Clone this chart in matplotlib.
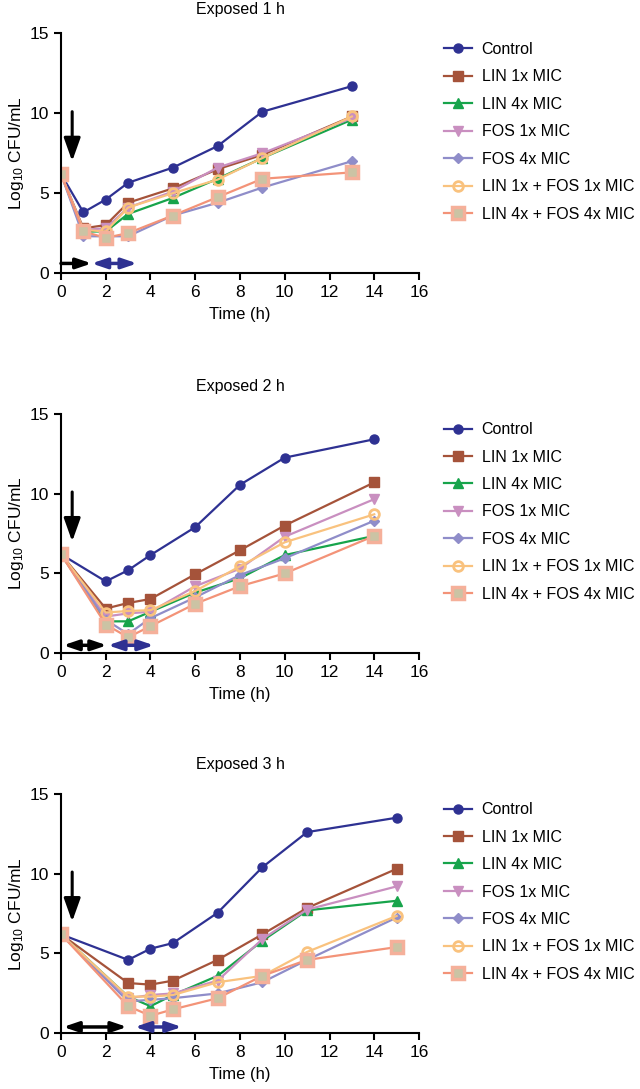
import matplotlib
matplotlib.use("Agg")
import matplotlib.pyplot as plt

plt.rcParams['font.family'] = ['Liberation Sans', 'DejaVu Sans']
plt.rcParams['mathtext.fontset'] = 'custom'
plt.rcParams['mathtext.rm'] = 'Liberation Sans'
plt.rcParams['mathtext.default'] = 'regular'

# series names
labels = ['Control', 'LIN 1x MIC', 'LIN 4x MIC', 'FOS 1x MIC', 'FOS 4x MIC',
          'LIN 1x + FOS 1x MIC', 'LIN 4x + FOS 4x MIC']

# panel 1: exposed 1 h
t1 = [0, 1, 2, 3, 5, 7, 9, 13]
p1_control = [6.2, 3.8, 4.6, 5.65, 6.6, 7.95, 10.1, 11.7]
p1_lin1 = [6.2, 2.8, 3.0, 4.4, 5.3, 6.5, 7.4, 9.8]
p1_lin4 = [6.2, 2.6, 2.6, 3.7, 4.7, 5.9, 7.2, 9.6]
p1_fos1 = [6.2, 2.7, 2.8, 4.1, 5.1, 6.6, 7.5, 9.7]
p1_fos4 = [6.2, 2.3, 2.3, 2.3, 3.6, 4.4, 5.35, 7.0]
p1_combo1 = [6.2, 2.7, 2.6, 4.1, 5.0, 5.85, 7.2, 9.8]
p1_combo4 = [6.2, 2.6, 2.2, 2.5, 3.6, 4.75, 5.9, 6.3]

# panel 2: exposed 2 h
t2 = [0, 2, 3, 4, 6, 8, 10, 14]
p2_control = [6.2, 4.5, 5.2, 6.15, 7.9, 10.55, 12.25, 13.4]
p2_lin1 = [6.2, 2.8, 3.15, 3.4, 4.95, 6.45, 8.0, 10.7]
p2_lin4 = [6.2, 2.0, 2.0, 2.6, 3.8, 4.7, 6.15, 7.35]
p2_fos1 = [6.2, 2.3, 2.5, 2.6, 4.2, 5.3, 7.3, 9.65]
p2_fos4 = [6.2, 2.1, 1.2, 2.2, 3.5, 4.9, 5.95, 8.3]
p2_combo1 = [6.2, 2.55, 2.65, 2.7, 3.9, 5.45, 6.95, 8.7]
p2_combo4 = [6.2, 1.8, 1.0, 1.7, 3.1, 4.2, 5.0, 7.35]

# panel 3: exposed 3 h
t3 = [0, 3, 4, 5, 7, 9, 11, 15]
p3_control = [6.2, 4.6, 5.3, 5.65, 7.55, 10.4, 12.6, 13.5]
p3_lin1 = [6.2, 3.15, 3.05, 3.3, 4.6, 6.2, 7.85, 10.3]
p3_lin4 = [6.2, 2.3, 1.7, 2.4, 3.6, 5.8, 7.7, 8.3]
p3_fos1 = [6.2, 2.2, 2.4, 2.5, 3.3, 5.9, 7.75, 9.2]
p3_fos4 = [6.2, 2.0, 2.1, 2.2, 2.5, 3.2, 4.6, 7.25]
p3_combo1 = [6.2, 2.3, 2.3, 2.4, 3.2, 3.6, 5.1, 7.35]
p3_combo4 = [6.2, 1.7, 1.1, 1.5, 2.2, 3.6, 4.6, 5.4]

titles = ['Exposed 1 h', 'Exposed 2 h', 'Exposed 3 h']
times = [t1, t2, t3]
panels = [
    [p1_control, p1_lin1, p1_lin4, p1_fos1, p1_fos4, p1_combo1, p1_combo4],
    [p2_control, p2_lin1, p2_lin4, p2_fos1, p2_fos4, p2_combo1, p2_combo4],
    [p3_control, p3_lin1, p3_lin4, p3_fos1, p3_fos4, p3_combo1, p3_combo4],
]

# exposure (black) and regrowth-sampling (blue) arrows: (start, end, double headed)
black_arrows = [(0.0, 1.37, False), (0.1, 2.05, True), (0.1, 2.95, True)]
blue_arrows = [(1.37, 3.4), (2.1, 4.15), (3.3, 5.4)]
arrow_y = [0.6, 0.5, 0.4]
title_pads = [14, 16, 18]

styles = [
    dict(color='#2e3192', marker='o', ms=6.5, mfc='#2e3192', mec='#2e3192'),
    dict(color='#a5533a', marker='s', ms=6.5, mfc='#a5533a', mec='#a5533a'),
    dict(color='#17a44b', marker='^', ms=6.5, mfc='#17a44b', mec='#17a44b'),
    dict(color='#c98fc0', marker='v', ms=7, mfc='#c98fc0', mec='#c98fc0'),
    dict(color='#8f8dc9', marker='D', ms=5.5, mfc='#8f8dc9', mec='#8f8dc9'),
    dict(color='#f9c27e', marker='o', ms=7, mfc='none', mec='#f9c27e', mew=2),
    dict(color='#f39378', marker='s', ms=9, mfc='#cbc3a4', mec='#f5b09a', mew=2.5),
]

fig = plt.figure(figsize=(6.4, 10.89), dpi=100)
bottoms = [0.7493, 0.4001, 0.0511]

for i in range(3):
    ax = fig.add_axes([0.0953, bottoms[i], 0.5594, 0.2200])
    for y, lab, st in zip(panels[i], labels, styles):
        ax.plot(times[i], y, lw=1.6, label=lab, **st)

    ax.set_xlim(0, 16)
    ax.set_ylim(0, 15)
    ax.set_xticks(range(0, 17, 2))
    ax.set_yticks([0, 5, 10, 15])
    ax.spines['top'].set_visible(False)
    ax.spines['right'].set_visible(False)
    for s in ['left', 'bottom']:
        ax.spines[s].set_linewidth(1.5)
    ax.tick_params(direction='out', length=5, width=1.5, labelsize=12.5)
    ax.set_xlabel('Time (h)', fontsize=12, labelpad=5)
    ax.set_ylabel('Log$_{10}$ CFU/mL', fontsize=12.5, labelpad=3)
    ax.set_title(titles[i], fontsize=11.5, pad=title_pads[i])

    # arrow marking the start of exposure
    ax.annotate('', xy=(0.5, 7.0), xytext=(0.5, 10.1),
                arrowprops=dict(arrowstyle='-|>,head_length=0.7,head_width=0.25',
                                color='black', lw=2.2, mutation_scale=20,
                                shrinkA=0, shrinkB=0))
    bx0, bx1, both = black_arrows[i]
    head = 'head_length=0.5,head_width=0.17'
    ax.annotate('', xy=(bx1, arrow_y[i]), xytext=(bx0, arrow_y[i]),
                arrowprops=dict(arrowstyle=('<|-|>,' if both else '-|>,') + head,
                                color='black', lw=2.5, mutation_scale=18,
                                shrinkA=0, shrinkB=0), annotation_clip=False)
    ux0, ux1 = blue_arrows[i]
    ax.annotate('', xy=(ux1, arrow_y[i]), xytext=(ux0, arrow_y[i]),
                arrowprops=dict(arrowstyle='<|-|>,' + head, color='#2e3192', lw=2.5,
                                mutation_scale=18, shrinkA=0, shrinkB=0),
                annotation_clip=False)

    ax.legend(loc='upper left', bbox_to_anchor=(1.07, 0.965), frameon=False,
              fontsize=11.5, borderpad=0, borderaxespad=0, handlelength=1.75,
              handletextpad=0.6, labelspacing=0.78)

fig.savefig('out.png', dpi=100)
